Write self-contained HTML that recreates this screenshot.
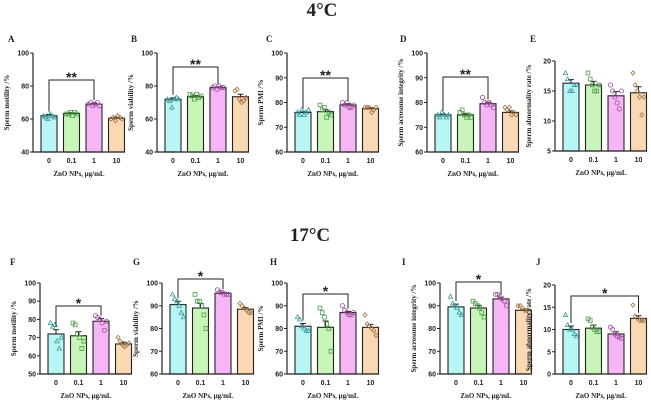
<!DOCTYPE html>
<html><head><meta charset="utf-8"><style>
body{margin:0;background:#fff;}
svg{display:block;}
.tk{font:bold 7px "Liberation Sans",sans-serif;fill:#222;}
.sr{font-family:"Liberation Serif",serif;font-weight:bold;fill:#222;}
</style></head><body>
<svg id="fig" width="651" height="401" viewBox="0 0 651 401" xmlns="http://www.w3.org/2000/svg">
<text class="sr" x="322" y="16" font-size="19" text-anchor="middle">4°C</text>
<text class="sr" x="310" y="241" font-size="19" text-anchor="middle">17°C</text>
</svg>
<script>
const categories=["0","0.1","1","10"];
const colors=["#b8f6f6","#c8f5b8","#f6b6f6","#fbd8b4"];
const mcol=["#3a9a9a","#4a9a4a","#9a4a9a","#a07040"];
const markers=["tri","sq","circ","dia"];
const meansA=[62,63.3,69,60.5], semA=[0.7,0.5,0.6,0.6];
const ptsA=[[62,61,60,63,62,61],[63,63,64,62,64,63],[69,70,68,69,70,68],[60,61,59,62,61,60]];
const meansB=[72,73.5,79,73.5], semB=[0.8,0.8,0.5,1.5];
const ptsB=[[72,71,67,72,73,72],[75,74,72,75,73,74],[79,80,78,80,79,79],[77,78,72,70,71,73]];
const meansC=[76,76.3,79,77.5], semC=[0.4,0.8,0.5,0.4];
const ptsC=[[76,75,77,75,76,77],[79,77,78,74,76,75],[80,79,80,78,78,79],[78,78,78,76,77,78]];
const meansD=[75,75,79.5,76], semD=[0.4,0.4,0.6,0.6];
const ptsD=[[75,74,76,75,74,75],[76,77,75,74,75,74],[82,80,79,80,79,78],[78,77,78,75,76,75]];
const meansE=[16.3,16,14.2,14.7], semE=[0.6,0.6,0.7,1.0];
const ptsE=[[18,17,15,15,16,16],[18,17,16,15,15,16],[16,15,14,13,12,15],[18,16,15,14,11,14]];
const meansF=[72,71,79,66.5], semF=[2.3,2.3,1.4,1.0];
const ptsF=[[78,76,77,68,64,70],[78,77,72,70,64,68],[82,81,80,78,74,79],[70,68,66,65,66,67]];
const meansG=[90.5,89,95.5,88.5], semG=[1.5,2.0,0.5,0.7];
const ptsG=[[95,93,92,90,87,85],[95,92,92,90,86,80],[97,96,96,95,95,95],[91,90,89,88,87,87]];
const meansH=[81,80.5,87,80.5], semH=[1.2,2.8,0.5,1.3];
const ptsH=[[85,84,81,80,79,79],[89,87,85,82,80,70],[90,88,87,86,86,87],[86,82,81,80,79,77]];
const meansI=[89.5,89,93,88], semI=[1.2,1.2,0.8,0.5];
const ptsI=[[94,91,90,89,87,86],[92,91,90,89,87,85],[95,95,94,93,92,90],[90,90,89,88,88,87]];
const meansJ=[10,10.3,9,12.5], semJ=[0.8,0.7,0.5,0.6];
const ptsJ=[[13.3,11,10,10,9,8.5],[12.4,12,10.5,10,9.5,9.5],[10.5,10,9,8.5,8.3,8],[15.5,13,12.5,12,12,12]];
const panels=[
 {L:"A",ax:33,top:53,bot:152,min:40,max:100,ticks:[40,60,80,100],m:meansA,s:semA,p:ptsA,yl:"Sperm motility /%",br:[0,2,"**",80],lx:8,ly:42},
 {L:"B",ax:157,top:53,bot:152,min:40,max:100,ticks:[40,60,80,100],m:meansB,s:semB,p:ptsB,yl:"Sperm viability /%",br:[0,2,"**",67],lx:131,ly:42},
 {L:"C",ax:287,top:53,bot:152,min:60,max:100,ticks:[60,70,80,90,100],m:meansC,s:semC,p:ptsC,yl:"Sperm PMI /%",br:[0,2,"**",78],lx:266,ly:42},
 {L:"D",ax:427,top:53,bot:152,min:60,max:100,ticks:[60,70,80,90,100],m:meansD,s:semD,p:ptsD,yl:"Sperm acrosome integrity /%",br:[0,2,"**",77],lx:400,ly:42},
 {L:"E",ax:555,top:61,bot:151,min:5,max:20,ticks:[5,10,15,20],m:meansE,s:semE,p:ptsE,yl:"Sperm abnormality rate /%",br:null,lx:530,ly:42},
 {L:"F",ax:40,top:283,bot:374,min:50,max:100,ticks:[50,60,70,80,90,100],m:meansF,s:semF,p:ptsF,yl:"Sperm motility /%",br:[0,2,"*",306],lx:10,ly:265},
 {L:"G",ax:162,top:283,bot:374,min:60,max:100,ticks:[60,70,80,90,100],m:meansG,s:semG,p:ptsG,yl:"Sperm viability /%",br:[0,2,"*",279],lx:133,ly:265},
 {L:"H",ax:287,top:283,bot:374,min:60,max:100,ticks:[60,70,80,90,100],m:meansH,s:semH,p:ptsH,yl:"Sperm PMI /%",br:[0,2,"*",294],lx:270,ly:265},
 {L:"I",ax:440,top:283,bot:374,min:60,max:100,ticks:[60,70,80,90,100],m:meansI,s:semI,p:ptsI,yl:"Sperm acrosome integrity /%",br:[0,2,"*",282],lx:402,ly:265},
 {L:"J",ax:555,top:285,bot:374,min:0,max:20,ticks:[0,5,10,15,20],m:meansJ,s:semJ,p:ptsJ,yl:"Sperm abnormality rate /%",br:[0,3,"*",296],lx:536,ly:265}
];
const svg=document.getElementById('fig');
const NS="http://www.w3.org/2000/svg";
function mk(t,a,parent){const e=document.createElementNS(NS,t);for(const k in a)e.setAttribute(k,a[k]);(parent||svg).appendChild(e);return e;}
panels.forEach(P=>{
 const g=mk('g',{});
 
 
 const y=v=>P.bot-(v-P.min)/(P.max-P.min)*(P.bot-P.top);
 const x=i=>P.ax+16+i*22.5;
 const lab=mk('text',{x:P.lx,y:P.ly,'font-size':9,class:'sr'},g);lab.textContent=P.L;
 
 
 P.m.forEach((v,i)=>{
  const b=mk('rect',{x:x(i)-8,y:y(v),width:16,height:P.bot-y(v),fill:colors[i],stroke:'#222','stroke-width':1.1},g);
  
  
  const e=mk('path',{d:`M${x(i)},${y(v)}V${y(v+P.s[i])}M${x(i)-3},${y(v+P.s[i])}H${x(i)+3}`,stroke:'#222','stroke-width':1,fill:'none'},g);
  
  
  P.p[i].forEach((pv,j)=>{
   const px=x(i)-5.5+j*2.2, py=y(pv), c=mcol[i];let el;
   if(markers[i]=='tri') el=mk('path',{d:`M${px},${py-2.3}L${px+2.2},${py+1.6}L${px-2.2},${py+1.6}Z`,fill:'none',stroke:c,'stroke-width':0.8},g);
   else if(markers[i]=='sq') el=mk('rect',{x:px-1.9,y:py-1.9,width:3.8,height:3.8,fill:'none',stroke:c,'stroke-width':0.8},g);
   else if(markers[i]=='circ') el=mk('circle',{cx:px,cy:py,r:2.1,fill:'none',stroke:c,'stroke-width':0.8},g);
   else el=mk('path',{d:`M${px},${py-2.2}L${px+2},${py}L${px},${py+2.2}L${px-2},${py}Z`,fill:'none',stroke:c,'stroke-width':0.8},g);
   
   
  });
  const t=mk('text',{x:x(i),y:P.bot+11,'text-anchor':'middle',class:'tk'},g);t.textContent=categories[i];
  
  
 });
 const ax=mk('path',{d:`M${P.ax},${P.top}V${P.bot}H${P.ax+92}`,stroke:'#222','stroke-width':1.2,fill:'none'},g);
 
 
 P.ticks.forEach(tv=>{
  mk('path',{d:`M${P.ax-3},${y(tv)}H${P.ax}`,stroke:'#222','stroke-width':1},g);
  const t=mk('text',{x:P.ax-4,y:y(tv)+2.5,'text-anchor':'end',class:'tk'},g);t.textContent=tv;
  
  
 });
 const yl=mk('text',{transform:`translate(${P.ax-24},${(P.top+P.bot)/2}) rotate(-90)`,'text-anchor':'middle','font-size':7,class:'sr'},g);yl.textContent=P.yl;
 
 
 const xl=mk('text',{x:P.ax+46,y:P.bot+24,'text-anchor':'middle','font-size':7,class:'sr'},g);xl.textContent="ZnO NPs, μg/mL";
 
 
 if(P.br){
  const [a,b,s,by]=P.br;
  const bp=mk('path',{d:`M${x(a)},${y(P.m[a]+P.s[a])-3}V${by}H${x(b)}V${y(P.m[b]+P.s[b])-3}`,stroke:'#222','stroke-width':1,fill:'none'},g);
  
  
  const st=mk('text',{x:(x(a)+x(b))/2,y:by+2,'text-anchor':'middle',style:'font:bold 14px "Liberation Sans",sans-serif;fill:#222'},g);st.textContent=s;
  
  
 }
});
</script>
</body></html>
